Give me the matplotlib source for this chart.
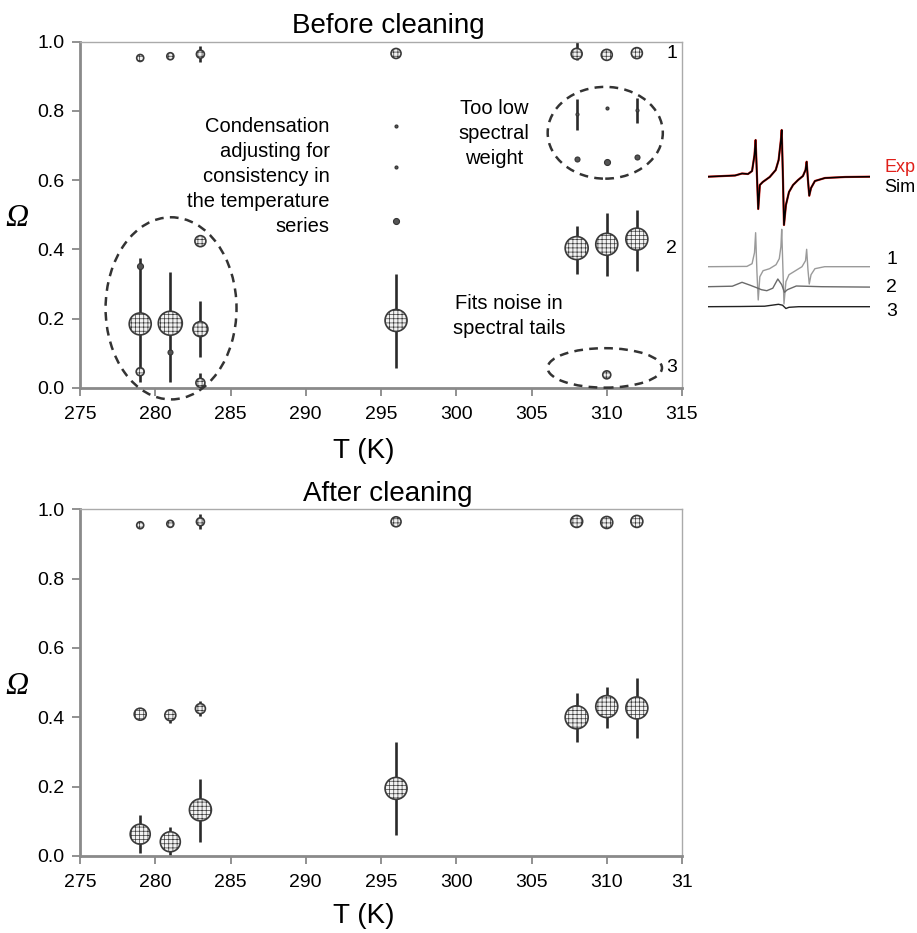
import matplotlib
matplotlib.use("Agg")
import matplotlib.pyplot as plt
from matplotlib.patches import Ellipse
import numpy as np

plt.rcParams['font.family'] = ['Liberation Sans', 'DejaVu Sans']
plt.rcParams['hatch.linewidth'] = 0.5

# ---------------- data: Before cleaning ----------------
before_T = [279, 281, 283, 296, 308, 310, 312,
            296, 296, 296, 308, 310, 312, 308, 310, 312,
            279, 279, 279, 281, 281, 283, 283, 283, 296,
            308, 310, 312, 310]
before_omega = [0.953, 0.958, 0.964, 0.966, 0.965, 0.962, 0.967,
                0.757, 0.638, 0.481, 0.791, 0.808, 0.803, 0.661, 0.654, 0.668,
                0.351, 0.185, 0.047, 0.187, 0.105, 0.424, 0.170, 0.015, 0.195,
                0.404, 0.415, 0.430, 0.038]
before_lo = [None, None, 0.941, None, 0.948, None, None,
             None, None, None, 0.746, None, 0.765, None, None, None,
             None, 0.018, None, 0.018, None, None, 0.090, 0.000, 0.057,
             0.329, 0.324, 0.339, None]
before_hi = [None, None, 0.988, None, 1.000, None, None,
             None, None, None, 0.835, None, 0.837, None, None, None,
             None, 0.375, None, 0.336, None, None, 0.250, 0.042, 0.330,
             0.468, 0.505, 0.514, None]
before_weight = [7, 7, 8, 10, 11, 11, 11,
                 3, 3, 6, 3, 3, 3, 5, 6, 5,
                 6, 22, 8, 24, 5, 11, 15, 9, 22,
                 23, 22, 22, 8]

# ---------------- data: After cleaning ----------------
after_T = [279, 281, 283, 296, 308, 310, 312,
           279, 281, 283,
           279, 281, 283, 296, 308, 310, 312]
after_omega = [0.954, 0.958, 0.964, 0.964, 0.965, 0.962, 0.965,
               0.409, 0.406, 0.425,
               0.063, 0.041, 0.133, 0.195, 0.400, 0.431, 0.427]
after_lo = [None, None, 0.943, None, None, None, None,
            None, 0.385, 0.404,
            0.008, 0.000, 0.041, 0.061, 0.328, 0.369, 0.339]
after_hi = [None, None, 0.986, None, None, None, None,
            None, 0.425, 0.446,
            0.118, 0.085, 0.222, 0.330, 0.469, 0.488, 0.514]
after_weight = [7, 7, 8, 10, 12, 12, 12,
                12, 11, 10,
                20, 20, 22, 22, 23, 22, 22]

x_ticks = [275, 280, 285, 290, 295, 300, 305, 310, 315]
top_xticklabels = ['275', '280', '285', '290', '295', '300', '305', '310', '315']
bottom_xticklabels = ['275', '280', '285', '290', '295', '300', '305', '310', '31']
y_ticks = [0.0, 0.2, 0.4, 0.6, 0.8, 1.0]

# ---------------- inset spectra (shape relative to own baseline, arbitrary units) ----
spec_x = [0, 16.7, 21, 24.7, 27.2, 28.7, 29.4, 30.2, 31, 32, 33.8, 38.1, 41.8, 43.6,
          45, 45.5, 46.3, 46.9, 48.1, 50, 52.5, 55.6, 58.6, 60.2, 60.9, 61.7, 62.5,
          63.6, 66, 72.2, 84.6, 100]
spec_sim = [0, 1.2, 3.2, 2.7, 5.7, 21.7, 36.7, 1.7, -32.3, -8.3, -5.3, -0.3, 6.7, 16.7,
            36.7, 46.7, -3.3, -48.3, -28.3, -15.3, -8.3, -3.3, 0.7, 6.7, 15, -3.3, -19,
            -11.3, -4.3, -1.3, -0.3, 0]
comp1_x = [0, 24, 27.2, 28.7, 29.4, 30.2, 31, 32, 34, 38, 42, 44, 45, 45.5, 46.3, 46.9,
           48.1, 50, 54, 58, 60.2, 60.9, 61.7, 62.5, 63.6, 66, 72, 100]
comp1_y = [0, 0.3, 3, 14, 34, -5, -33.3, -10, -4, -2, 2, 8, 20, 37.4, -5, -37.3,
           -15, -8, -4, 0, 6, 17.4, -3, -17.3, -8, -2, 0, 0]
comp2_x = [0, 15, 21, 26, 30, 33, 36.3, 40, 43.1, 45.5, 47.2, 49, 54.5, 70, 100]
comp2_y = [0, 0.5, 4.4, 1.5, -1, -3, -4, -1.5, 7.7, 2, -5.6, -3, 0.7, 0, -0.4]
comp3_x = [0, 20, 35, 43.5, 46, 48.1, 50, 56, 100]
comp3_y = [0, 0.2, 0.5, 2.4, 1.5, -1.8, -0.6, 0, 0]

W, H = 917, 933
fig = plt.figure(figsize=(W / 100, H / 100), dpi=100)


def px_axes(x0, y0, x1, y1):
    return fig.add_axes([x0 / W, 1 - y1 / H, (x1 - x0) / W, (y1 - y0) / H])


EDGE = '#3a3a3a'


def draw_panel(ax, T, om, lo, hi, wt, xticklabels, title, xlab_y):
    ax.set_xlim(275, 315)
    ax.set_ylim(0, 1.0)
    for t, l, h in zip(T, lo, hi):
        if l is not None:
            ax.plot([t, t], [l, h], color='#2a2a2a', lw=1.9, zorder=2,
                    solid_capstyle='butt', clip_on=False)
    for t, o, w in zip(T, om, wt):
        d_pt = w / 1.389
        if w <= 6:
            ax.scatter([t], [o], s=d_pt ** 2, facecolor='#555555', edgecolor='#333333',
                       linewidths=0.8, zorder=3, clip_on=False)
        else:
            ax.scatter([t], [o], s=d_pt ** 2, facecolor='#f2f2f2', edgecolor=EDGE,
                       linewidths=1.2, hatch='++++', zorder=3, clip_on=False)
    ax.set_xticks(x_ticks)
    ax.set_xticklabels(xticklabels)
    ax.set_yticks(y_ticks)
    ax.set_yticklabels([f'{v:.1f}' for v in y_ticks])
    ax.tick_params(axis='both', labelsize=14, direction='out', length=6, width=1.3,
                   color='#888888')
    ax.tick_params(axis='y', pad=5)
    ax.tick_params(axis='x', pad=7)
    for s in ['left', 'bottom']:
        ax.spines[s].set_color('#8a8a8a')
        ax.spines[s].set_linewidth(2.0)
    for s in ['top', 'right']:
        ax.spines[s].set_color('#aaaaaa')
        ax.spines[s].set_linewidth(1.0)
    t = ax.set_title(title, fontsize=20, pad=6)
    t.set_x(0.512)
    ax.set_xlabel('T (K)', fontsize=20)
    ax.xaxis.set_label_coords(0.472, xlab_y)
    ax.xaxis.label.set_va('center')
    ax.set_ylabel('Ω', fontsize=23, rotation=0, family=['Liberation Serif'],
                  style='italic')
    ax.yaxis.set_label_coords(-0.105, 0.49)
    ax.yaxis.label.set_va('center')
    ax.yaxis.label.set_ha('center')


ax1 = px_axes(80, 41.7, 682, 388)
ax2 = px_axes(80, 509.3, 682, 856)

draw_panel(ax1, before_T, before_omega, before_lo, before_hi, before_weight,
           top_xticklabels, 'Before cleaning', -0.183)
draw_panel(ax2, after_T, after_omega, after_lo, after_hi, after_weight,
           bottom_xticklabels, 'After cleaning', -0.173)

# dashed ellipses
for (cx, cy, w, h) in [(281.05, 0.23, 8.7, 0.526), (309.9, 0.737, 7.65, 0.265),
                       (309.87, 0.058, 7.6, 0.114)]:
    e = Ellipse((cx, cy), w, h, fill=False, edgecolor='#333333', lw=1.8,
                linestyle=(0, (3.5, 2.5)), clip_on=False, zorder=4)
    ax1.add_patch(e)

ax1.text(291.6, 0.612, 'Condensation\nadjusting for\nconsistency in\nthe temperature\nseries',
         ha='right', va='center', fontsize=14.5, linespacing=1.4)
ax1.text(302.5, 0.734, 'Too low\nspectral\nweight', ha='center', va='center',
         fontsize=14.5, linespacing=1.4)
ax1.text(303.5, 0.207, 'Fits noise in\nspectral tails', ha='center', va='center',
         fontsize=14.5, linespacing=1.4)
for lab, yy in [('1', 0.965), ('2', 0.404), ('3', 0.058)]:
    ax1.text(314.3, yy, lab, ha='center', va='center', fontsize=14)

# inset spectra
axi = px_axes(708, 120, 870, 320)
axi.set_xlim(0, 100)
axi.set_ylim(-320, -120)
axi.axis('off')
sx = np.array(spec_x)
sy = np.array(spec_sim)
axi.plot(sx, sy - 176.7, color='#e0201a', lw=1.6)
axi.plot(sx, sy - 176.7, color='black', lw=1.1)
axi.plot(comp1_x, np.array(comp1_y) - 266.7, color='#9a9a9a', lw=1.0)
axi.plot(comp2_x, np.array(comp2_y) - 286.7, color='#6a6a6a', lw=1.0)
axi.plot(comp3_x, np.array(comp3_y) - 306.7, color='#222222', lw=1.0)
fig.text(884 / W, 1 - 167 / H, 'Exp', color='#e0201a', fontsize=13, va='center')
fig.text(884 / W, 1 - 188 / H, 'Sim', color='black', fontsize=13, va='center')
for lab, yy in [('1', 260), ('2', 287), ('3', 312)]:
    fig.text(886 / W, 1 - yy / H, lab, color='black', fontsize=14, va='center')

fig.savefig('out.png', dpi=100)
